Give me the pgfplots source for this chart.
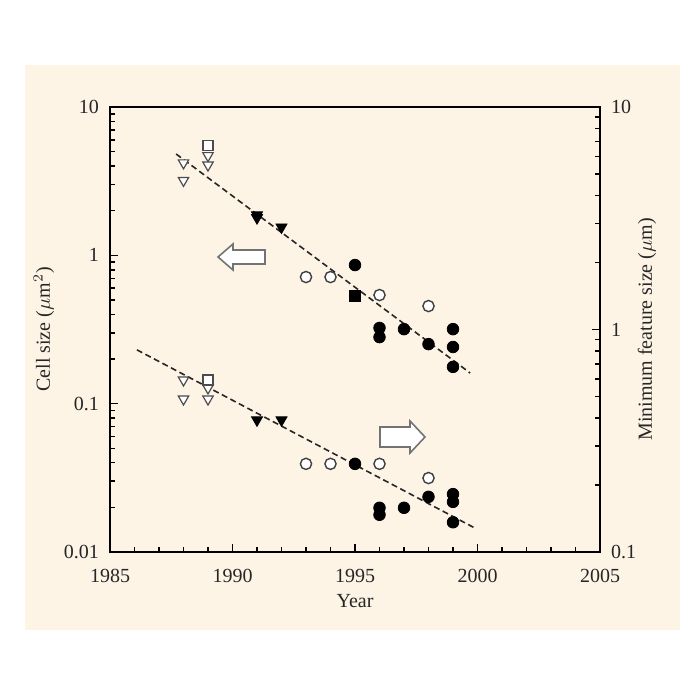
\documentclass[border=0pt]{standalone}
\usepackage{pgfplots}
\pgfplotsset{compat=1.18}
\usepackage{fontspec}
\setmainfont{Liberation Serif}
\definecolor{bg}{RGB}{253,244,230}
\pgfplotsset{
  base/.style={at={(55pt,74pt)}, anchor=south west, scale only axis, width=245pt, height=222.5pt,
    xmin=1985, xmax=2005,
    /pgf/number format/assume math mode=true,
    tick label style={font=\fontsize{10}{12}\selectfont, text=black!85},
    label style={font=\fontsize{10}{12}\selectfont, text=black!85},
    tick align=inside, major tick length=4pt, minor tick length=2.5pt,
    every tick/.style={black, line width=0.8pt},
    axis line style={line width=1pt}},
  ocirc/.style={only marks, mark=*, mark size=2.8pt, mark options={draw=black!75, fill=white, line width=0.7pt}},
  fcirc/.style={only marks, mark=*, mark size=2.9pt, mark options={draw=black, fill=black}},
  fsq/.style={only marks, mark=square*, mark size=2.7pt, mark options={draw=black, fill=black}},
  osq/.style={only marks, mark=square*, mark size=2.5pt, mark options={draw=black!70, fill=white, line width=0.6pt}},
  otri/.style={only marks, mark=triangle*, mark size=3pt, mark options={rotate=180, draw=black!70, fill=white, line width=0.6pt}},
  ftri/.style={only marks, mark=triangle*, mark size=3.2pt, mark options={rotate=180, draw=black, fill=black}},
  fit/.style={black!85, line width=0.8pt, dash pattern=on 3pt off 1.8pt},
}
\begin{document}
\begin{tikzpicture}
\fill[white] (0,0) rectangle (350pt,350pt);
\fill[bg] (12.5pt,35pt) rectangle (340pt,317.5pt);
\begin{axis}[base,
  ymode=log, ymin=0.01, ymax=10,
  xtick={1985,1990,...,2005}, minor x tick num=4,
  x tick label style={/pgf/number format/1000 sep={}, yshift=-5pt},
  y tick label style={xshift=-2pt},
  xtick pos=left, ytick pos=left,
  ytick={0.01,0.1,1,10}, yticklabels={0.01,0.1,1,10},
  xlabel={Year}, ylabel={Cell size ($\mu$m$^{2}$)},
  ylabel style={yshift=-2pt}, xlabel style={yshift=1pt},
]
\addplot[fit] coordinates {(1987.7,4.82) (1999.7,0.161)};
\addplot[otri] coordinates {(1988,4.2) (1988,3.2) (1989,4.7) (1989,4.06)};
\addplot[osq] coordinates {(1989,5.5)};
\addplot[ftri] coordinates {(1991,1.87) (1991,1.79) (1992,1.55)};
\addplot[ocirc] coordinates {(1993,0.714) (1994,0.714) (1996,0.54) (1998,0.455)};
\addplot[fcirc] coordinates {(1995,0.86) (1996,0.324) (1996,0.281) (1997,0.318) (1998,0.252) (1999,0.318) (1999,0.241) (1999,0.177)};
\addplot[fsq] coordinates {(1995,0.53)};
\end{axis}
\begin{axis}[base,
  ymode=log, ymin=0.1, ymax=10,
  axis x line=none, axis y line*=right,
  ytick={0.1,1,10}, yticklabels={0.1,1,10},
  y tick label style={xshift=2pt},
  ylabel={Minimum feature size ($\mu$m)},
  ylabel shift=-6pt,
]
\addplot[fit] coordinates {(1986.1,0.81) (1999.9,0.128)};
\addplot[otri] coordinates {(1988,0.593) (1988,0.487) (1989,0.546) (1989,0.487)};
\addplot[osq] coordinates {(1989,0.593)};
\addplot[ftri] coordinates {(1991,0.392) (1992,0.392)};
\addplot[ocirc] coordinates {(1993,0.249) (1994,0.249) (1996,0.249) (1998,0.215)};
\addplot[fcirc] coordinates {(1995,0.249) (1996,0.158) (1996,0.147) (1997,0.158) (1998,0.177) (1999,0.182) (1999,0.168) (1999,0.136)};
\end{axis}
\begin{scope}[x=0.5pt,y=-0.5pt,yshift=350pt]
\filldraw[fill=white, draw=black!55, line width=0.8pt] (218,257) -- (233,244) -- (233,250) -- (265,250) -- (265,264) -- (233,264) -- (233,270) -- cycle;
\filldraw[fill=white, draw=black!55, line width=0.8pt] (425,437) -- (410,421) -- (410,427) -- (380,427) -- (380,447) -- (410,447) -- (410,453) -- cycle;
\end{scope}
\end{tikzpicture}
\end{document}
